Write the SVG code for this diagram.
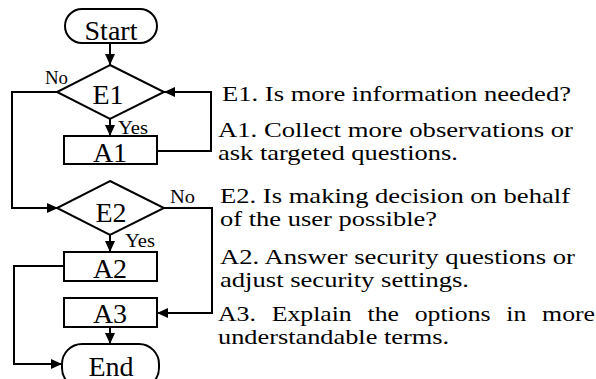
<svg xmlns="http://www.w3.org/2000/svg" width="596" height="379" viewBox="0 0 596 379" font-family="Liberation Serif, Times New Roman, Times, serif">
<style>
.shape{fill:#fff;stroke:#000;stroke-width:2}
.conn{fill:none;stroke:#000;stroke-width:2}
text{font-family:'Liberation Serif','Times New Roman',Times,serif}
.lbl{font-size:28px;fill:#000;text-anchor:middle}
.small{font-size:18px;fill:#000}
.desc{font-size:22px;fill:#000}
</style>
<defs>
<marker id="arr" markerUnits="userSpaceOnUse" markerWidth="12" markerHeight="12" refX="11" refY="6" orient="auto">
<path d="M0,1 L11,6 L0,11 Z" fill="#000"/>
</marker>
</defs>
<rect width="596" height="379" fill="#fff"/>
<g id="connectors">
<line class="conn" x1="110" y1="43" x2="110" y2="65" marker-end="url(#arr)"/>
<line class="conn" x1="110" y1="119" x2="110" y2="136" marker-end="url(#arr)"/>
<polyline class="conn" points="157,151 211,151 211,92 164,92" marker-end="url(#arr)"/>
<polyline class="conn" points="58,92 12,92 12,208 58,208" marker-end="url(#arr)"/>
<line class="conn" x1="110" y1="235" x2="110" y2="252" marker-end="url(#arr)"/>
<polyline class="conn" points="164,208 212,208 212,313 157,313" marker-end="url(#arr)"/>
<polyline class="conn" points="64,266 14,266 14,364 62,364" marker-end="url(#arr)"/>
<line class="conn" x1="110" y1="327" x2="110" y2="344" marker-end="url(#arr)"/>
<text class="small" x="45" y="84" textLength="23" lengthAdjust="spacingAndGlyphs">No</text>
<text class="small" x="118" y="134" textLength="30" lengthAdjust="spacingAndGlyphs">Yes</text>
<text class="small" x="170" y="203" textLength="25" lengthAdjust="spacingAndGlyphs">No</text>
<text class="small" x="125" y="247" textLength="30" lengthAdjust="spacingAndGlyphs">Yes</text>
</g>
<g id="start">
<rect class="shape" x="65" y="9" width="92" height="34" rx="17"/>
<text class="lbl" x="111" y="40">Start</text>
</g>
<g id="e1">
<polygon class="shape" points="110,65 164,92 110,119 57,92"/>
<text class="lbl" x="108" y="104">E1</text>
</g>
<g id="a1">
<rect class="shape" x="64" y="136" width="93" height="28"/>
<text class="lbl" x="110" y="162">A1</text>
</g>
<g id="e2">
<polygon class="shape" points="110,181 164,208 110,235 57,208"/>
<text class="lbl" x="111" y="222">E2</text>
</g>
<g id="a2">
<rect class="shape" x="64" y="252" width="93" height="29"/>
<text class="lbl" x="110" y="278">A2</text>
</g>
<g id="a3">
<rect class="shape" x="64" y="298" width="93" height="29"/>
<text class="lbl" x="110" y="323">A3</text>
</g>
<g id="end">
<rect class="shape" x="62" y="344" width="97" height="44" rx="20"/>
<text class="lbl" x="111" y="376">End</text>
</g>
<g id="descriptions">
<text class="desc" x="222" y="101" textLength="349" lengthAdjust="spacingAndGlyphs">E1. Is more information needed?</text>
<text class="desc" x="218" y="137" textLength="355" lengthAdjust="spacingAndGlyphs">A1. Collect more observations or</text>
<text class="desc" x="218" y="160" textLength="240" lengthAdjust="spacingAndGlyphs">ask targeted questions.</text>
<text class="desc" x="220" y="203" textLength="350" lengthAdjust="spacingAndGlyphs">E2. Is making decision on behalf</text>
<text class="desc" x="220" y="226" textLength="217" lengthAdjust="spacingAndGlyphs">of the user possible?</text>
<text class="desc" x="220" y="264" textLength="355" lengthAdjust="spacingAndGlyphs">A2. Answer security questions or</text>
<text class="desc" x="220" y="287" textLength="249" lengthAdjust="spacingAndGlyphs">adjust security settings.</text>
<text class="desc" x="218" y="321" word-spacing="8" textLength="377" lengthAdjust="spacingAndGlyphs">A3. Explain the options in more</text>
<text class="desc" x="218" y="344" textLength="231" lengthAdjust="spacingAndGlyphs">understandable terms.</text>
</g>
</svg>
